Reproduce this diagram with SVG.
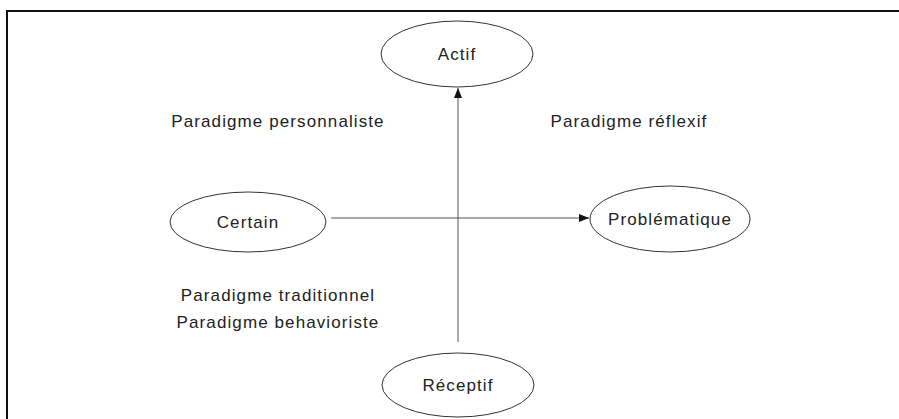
<svg xmlns="http://www.w3.org/2000/svg" width="899" height="419" viewBox="0 0 899 419">
<style>
.node ellipse{fill:#fff;stroke:#333;stroke-width:1}
text{font-family:"Liberation Sans",Arial,sans-serif;font-size:17px;fill:#222;letter-spacing:1.1px}
.c{text-anchor:middle}
.conn line{stroke:#555;stroke-width:1}
.frame{stroke:#111;stroke-width:2;fill:none}
</style>
<defs>
<marker id="arr" viewBox="0 0 10 10" refX="10" refY="5" markerWidth="10" markerHeight="10" markerUnits="userSpaceOnUse" orient="auto">
<path d="M0,1 L10,5 L0,9 Z" fill="#111"/>
</marker>
</defs>
<rect width="899" height="419" fill="#fff"/>
<path class="frame" d="M7,419 V11 H899"/>
<g class="conn">
<line x1="458" y1="342" x2="458" y2="88" marker-end="url(#arr)"/>
<line x1="331" y1="218" x2="589" y2="218" marker-end="url(#arr)"/>
</g>
<g id="actif" class="node"><ellipse cx="457" cy="54" rx="76" ry="33"/><text class="c" x="457" y="60">Actif</text></g>
<g id="certain" class="node"><ellipse cx="248" cy="222" rx="78" ry="30"/><text class="c" x="248" y="228">Certain</text></g>
<g id="problematique" class="node"><ellipse cx="670" cy="219" rx="80" ry="33"/><text class="c" x="670" y="225">Problématique</text></g>
<g id="receptif" class="node"><ellipse cx="458" cy="385" rx="76" ry="32"/><text class="c" x="458" y="391">Réceptif</text></g>
<g id="labels">
<text class="c" x="278" y="127">Paradigme personnaliste</text>
<text class="c" x="629" y="127">Paradigme réflexif</text>
<text class="c" x="278" y="301">Paradigme traditionnel</text>
<text class="c" x="278" y="328">Paradigme behavioriste</text>
</g>
</svg>
